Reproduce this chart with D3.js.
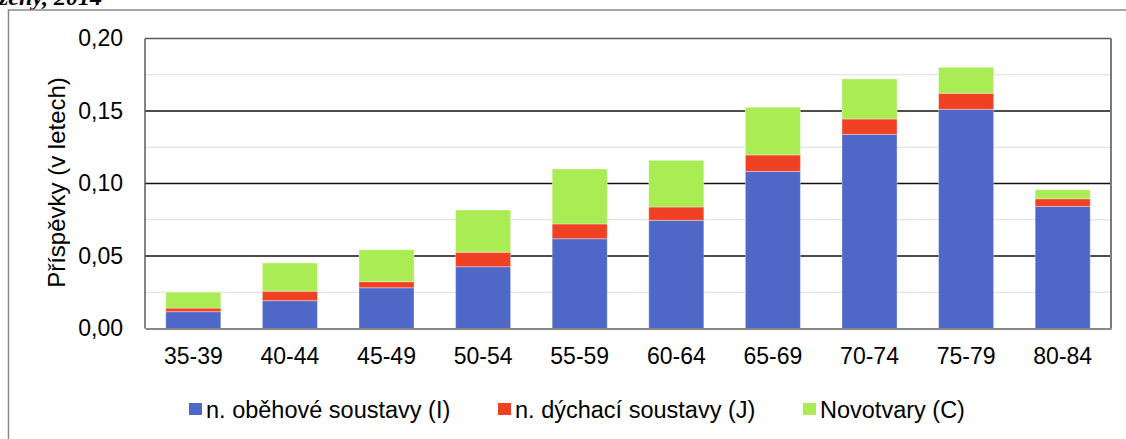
<!DOCTYPE html>
<html lang="cs">
<head>
<meta charset="utf-8">
<script src="https://cdn.jsdelivr.net/npm/d3@7"></script>
<style>
  html, body { margin: 0; padding: 0; background: #fff; }
  svg { display: block; }
  text { font-family: "Liberation Sans", Arial, sans-serif; fill: #000; }
</style>
</head>
<body>
<svg id="chart" width="1126" height="439"></svg>
<script>
// Věkové skupiny
const categories = ["35-39", "40-44", "45-49", "50-54", "55-59", "60-64", "65-69", "70-74", "75-79", "80-84"];

// Příspěvky jednotlivých skupin příčin smrti (v letech)
const obehove = [0.0116, 0.0192, 0.0281, 0.0426, 0.0619, 0.0746, 0.1083, 0.1339, 0.1512, 0.0842];
const dychaci = [0.0025, 0.0065, 0.0042, 0.0100, 0.0102, 0.0092, 0.0114, 0.0106, 0.0110, 0.0053];
const novotvary = [0.0109, 0.0195, 0.0220, 0.0291, 0.0379, 0.0322, 0.0329, 0.0276, 0.0179, 0.0062];

const seriesNames = ["n. oběhové soustavy (I)", "n. dýchací soustavy (J)", "Novotvary (C)"];
const seriesColors = ["#4F68C7", "#F04124", "#AAEC54"];

const yTicks = [0, 0.05, 0.10, 0.15, 0.20];
const yMinorTicks = [0.025, 0.075, 0.125, 0.175];

const svg = d3.select("#chart");

const plot = { left: 145, right: 1111, top: 38.5, bottom: 328.5 };

const cz = d3.formatLocale({ decimal: ",", thousands: " ", grouping: [3], currency: ["", " Kč"] });
const fmt = cz.format(".2f");

const x = d3.scaleBand()
  .domain(categories)
  .range([plot.left, plot.right])
  .paddingInner(0.43)
  .paddingOuter(0.215);

const y = d3.scaleLinear()
  .domain([0, 0.2])
  .range([plot.bottom, plot.top]);

// Nadpis (druhý řádek, částečně oříznutý)
svg.append("text")
  .attr("x", -1)
  .attr("y", 5)
  .style("font-family", "'Liberation Serif', 'Times New Roman', serif")
  .style("font-weight", "bold")
  .style("font-style", "italic")
  .style("font-size", "24px")
  .text("ženy, 2014");

// Rámeček grafu
svg.append("rect")
  .attr("x", 8.5)
  .attr("y", 10)
  .attr("width", 1200)
  .attr("height", 500)
  .attr("fill", "none")
  .attr("stroke", "#8a8a8a")
  .attr("stroke-width", 1.5);

// Vedlejší mřížka
svg.append("g")
  .selectAll("line")
  .data(yMinorTicks)
  .join("line")
  .attr("x1", plot.left)
  .attr("x2", plot.right)
  .attr("y1", d => y(d))
  .attr("y2", d => y(d))
  .attr("stroke", "#dcdcdc")
  .attr("stroke-width", 1.2);

// Hlavní mřížka
svg.append("g")
  .selectAll("line")
  .data(yTicks.filter(t => t > 0 && t < 0.2))
  .join("line")
  .attr("x1", plot.left)
  .attr("x2", plot.right)
  .attr("y1", d => y(d))
  .attr("y2", d => y(d))
  .attr("stroke", "#111")
  .attr("stroke-width", 1.5);

// Skládané sloupce
const table = categories.map((c, i) => ({ cat: c, s0: obehove[i], s1: dychaci[i], s2: novotvary[i] }));
const stack = d3.stack().keys(["s0", "s1", "s2"]);
const layers = stack(table);

svg.append("g")
  .selectAll("g")
  .data(layers)
  .join("g")
  .attr("fill", (d, i) => seriesColors[i])
  .selectAll("rect")
  .data(d => d)
  .join("rect")
  .attr("x", d => x(d.data.cat))
  .attr("width", x.bandwidth())
  .attr("y", d => y(d[1]))
  .attr("height", d => y(d[0]) - y(d[1]))
  .attr("stroke", "rgba(255,255,255,0.35)")
  .attr("stroke-width", 1);

// Okraje oblasti grafu
const border = svg.append("g").attr("fill", "none");
border.append("line")
  .attr("x1", plot.left).attr("x2", plot.right)
  .attr("y1", plot.top).attr("y2", plot.top)
  .attr("stroke", "#5a5a5a").attr("stroke-width", 1.5);
border.append("line")
  .attr("x1", plot.left).attr("x2", plot.left)
  .attr("y1", plot.top).attr("y2", plot.bottom)
  .attr("stroke", "#5a5a5a").attr("stroke-width", 1.5);
border.append("line")
  .attr("x1", plot.right).attr("x2", plot.right)
  .attr("y1", plot.top).attr("y2", plot.bottom)
  .attr("stroke", "#7a7a7a").attr("stroke-width", 2);

// Osa Y
const yAxis = d3.axisLeft(y).tickValues(yTicks).tickFormat(fmt).tickSize(0).tickPadding(22);
const yg = svg.append("g").attr("transform", `translate(${plot.left},0)`).call(yAxis);
yg.select(".domain").remove();
yg.selectAll("text")
  .style("font-family", "'Liberation Sans', Arial, sans-serif")
  .style("font-size", "23px")
  .attr("fill", "#000");

// Osa X
const xAxis = d3.axisBottom(x).tickSize(0).tickPadding(19);
const xg = svg.append("g").attr("transform", `translate(0,${plot.bottom})`).call(xAxis);
xg.select(".domain").attr("stroke", "#888").attr("stroke-width", 2.2);
xg.selectAll("text")
  .style("font-family", "'Liberation Sans', Arial, sans-serif")
  .style("font-size", "23px")
  .attr("fill", "#000");

// Popis osy Y
svg.append("text")
  .attr("transform", `translate(65, ${(plot.top + plot.bottom) / 2 - 1}) rotate(-90)`)
  .attr("text-anchor", "middle")
  .style("font-size", "24px")
  .text("Příspěvky (v letech)");

// Legenda
const legendX = [189, 498, 803];
const legend = svg.append("g")
  .selectAll("g")
  .data(seriesNames)
  .join("g")
  .attr("transform", (d, i) => `translate(${legendX[i]}, 409)`);
legend.append("rect")
  .attr("x", 0)
  .attr("y", -6)
  .attr("width", 13)
  .attr("height", 12)
  .attr("fill", (d, i) => seriesColors[i]);
legend.append("text")
  .attr("x", 17)
  .attr("y", 9)
  .style("font-size", "23.5px")
  .text(d => d);
</script>
</body>
</html>
